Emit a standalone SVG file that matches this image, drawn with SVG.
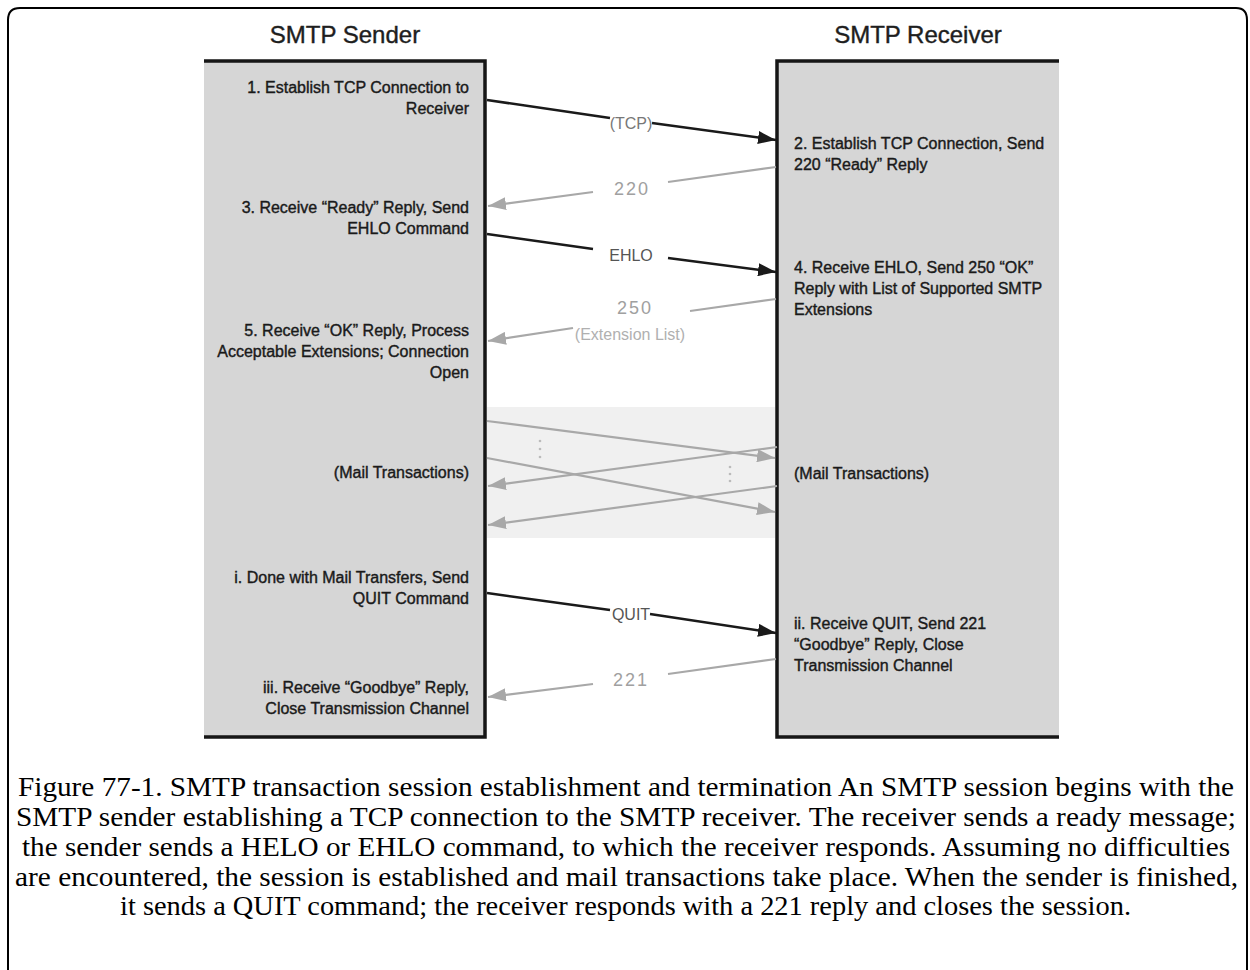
<svg xmlns="http://www.w3.org/2000/svg" width="1250" height="970" viewBox="0 0 1250 970">
<style>
.hdr{font-family:"Liberation Sans",Arial,sans-serif;font-size:24px;fill:#1e1e1e;stroke:#1e1e1e;stroke-width:0.4px}
.bt{font-family:"Liberation Sans",Arial,sans-serif;font-size:16px;fill:#1a1a1a;stroke:#1a1a1a;stroke-width:0.4px}
.bl{font-family:"Liberation Sans",Arial,sans-serif;font-size:16px;fill:#555}
.gl{font-family:"Liberation Sans",Arial,sans-serif;font-size:18px;fill:#a0a0a0;letter-spacing:2px}
.gls{font-family:"Liberation Sans",Arial,sans-serif;font-size:16px;fill:#b0b0b0}
.cap{font-family:"Liberation Serif","Times New Roman",serif;font-size:28px;fill:#000}
.box{fill:#d6d6d6}
.edge{fill:none;stroke:#161616;stroke-width:3.5}
.blk{fill:none;stroke:#1a1a1a;stroke-width:2.5}
.gry{fill:none;stroke:#a8a8a8;stroke-width:2.2}
</style>
<defs>
<marker id="ab" viewBox="0 0 18 13" refX="18" refY="6.5" markerWidth="18" markerHeight="13" markerUnits="userSpaceOnUse" orient="auto"><path d="M0,0 L18,6.5 L0,13 z" fill="#1a1a1a"/></marker>
<marker id="ag" viewBox="0 0 18 13" refX="18" refY="6.5" markerWidth="18" markerHeight="13" markerUnits="userSpaceOnUse" orient="auto"><path d="M0,0 L18,6.5 L0,13 z" fill="#a8a8a8"/></marker>
</defs>
<rect width="1250" height="970" fill="#fff"/>
<path d="M8,1000 L8,20 Q8,8 20,8 L1236,8 Q1247,8 1247,20 L1247,1000" fill="none" stroke="#000" stroke-width="2"/>

<g id="sender">
<text class="hdr" x="345" y="43" text-anchor="middle">SMTP Sender</text>
<rect class="box" x="204" y="60" width="281" height="678"/>
<path class="edge" d="M204,61 L485,61 L485,737 L204,737"/>
<g class="bt" text-anchor="end">
<text x="469" y="93">1. Establish TCP Connection to</text>
<text x="469" y="114">Receiver</text>
<text x="469" y="213">3. Receive “Ready” Reply, Send</text>
<text x="469" y="234">EHLO Command</text>
<text x="469" y="336">5. Receive “OK” Reply, Process</text>
<text x="469" y="357">Acceptable Extensions; Connection</text>
<text x="469" y="378">Open</text>
<text x="469" y="478">(Mail Transactions)</text>
<text x="469" y="583">i. Done with Mail Transfers, Send</text>
<text x="469" y="604">QUIT Command</text>
<text x="469" y="693">iii. Receive “Goodbye” Reply,</text>
<text x="469" y="714">Close Transmission Channel</text>
</g>
</g>

<g id="receiver">
<text class="hdr" x="918" y="43" text-anchor="middle">SMTP Receiver</text>
<rect class="box" x="777" y="60" width="282" height="678"/>
<path class="edge" d="M1059,61 L777,61 L777,737 L1059,737"/>
<g class="bt">
<text x="794" y="149">2. Establish TCP Connection, Send</text>
<text x="794" y="170">220 “Ready” Reply</text>
<text x="794" y="273">4. Receive EHLO, Send 250 “OK”</text>
<text x="794" y="294">Reply with List of Supported SMTP</text>
<text x="794" y="315">Extensions</text>
<text x="794" y="479">(Mail Transactions)</text>
<text x="794" y="629">ii. Receive QUIT, Send 221</text>
<text x="794" y="650">“Goodbye” Reply, Close</text>
<text x="794" y="671">Transmission Channel</text>
</g>
</g>

<g id="mail-band">
<rect x="487" y="407" width="288" height="131" fill="#f0f0f0"/>
<g fill="#bbb">
<circle cx="540" cy="441" r="1.3"/><circle cx="540" cy="449" r="1.3"/><circle cx="540" cy="457" r="1.3"/>
<circle cx="730" cy="467" r="1.3"/><circle cx="730" cy="474" r="1.3"/><circle cx="730" cy="481" r="1.3"/>
</g>
</g>

<g id="connectors">
<path class="blk" d="M487,100 L610,118"/>
<path class="blk" d="M652,123 L776,140" marker-end="url(#ab)"/>
<text class="bl" x="631" y="129" text-anchor="middle" style="fill:#777">(TCP)</text>

<path class="gry" d="M776,167 L668,182"/>
<path class="gry" d="M593,192 L488,206" marker-end="url(#ag)"/>
<text class="gl" x="632" y="195" text-anchor="middle">220</text>

<path class="blk" d="M487,234 L593,249"/>
<path class="blk" d="M668,258 L776,272" marker-end="url(#ab)"/>
<text class="bl" x="631" y="261" text-anchor="middle">EHLO</text>

<path class="gry" d="M776,299 L690,311"/>
<path class="gry" d="M573,328 L488,341" marker-end="url(#ag)"/>
<text class="gl" x="635" y="314" text-anchor="middle">250</text>
<text class="gls" x="630" y="340" text-anchor="middle">(Extension List)</text>

<path class="gry" d="M487,421 L775,458" marker-end="url(#ag)"/>
<path class="gry" d="M487,458 L775,512" marker-end="url(#ag)"/>
<path class="gry" d="M777,447 L488,486" marker-end="url(#ag)"/>
<path class="gry" d="M777,486 L488,525" marker-end="url(#ag)"/>

<path class="blk" d="M487,593 L610,610"/>
<path class="blk" d="M650,614 L776,633" marker-end="url(#ab)"/>
<text class="bl" x="631" y="620" text-anchor="middle">QUIT</text>

<path class="gry" d="M776,659 L668,674"/>
<path class="gry" d="M593,684 L488,697" marker-end="url(#ag)"/>
<text class="gl" x="631" y="686" text-anchor="middle">221</text>
</g>

<g id="caption" class="cap">
<text x="18" y="796" textLength="1216" lengthAdjust="spacingAndGlyphs">Figure 77-1. SMTP transaction session establishment and termination An SMTP session begins with the</text>
<text x="16" y="826" textLength="1220" lengthAdjust="spacingAndGlyphs">SMTP sender establishing a TCP connection to the SMTP receiver. The receiver sends a ready message;</text>
<text x="22" y="856" textLength="1208" lengthAdjust="spacingAndGlyphs">the sender sends a HELO or EHLO command, to which the receiver responds. Assuming no difficulties</text>
<text x="15" y="886" textLength="1223" lengthAdjust="spacingAndGlyphs">are encountered, the session is established and mail transactions take place. When the sender is finished,</text>
<text x="120" y="915" textLength="1011" lengthAdjust="spacingAndGlyphs">it sends a QUIT command; the receiver responds with a 221 reply and closes the session.</text>
</g>
</svg>
